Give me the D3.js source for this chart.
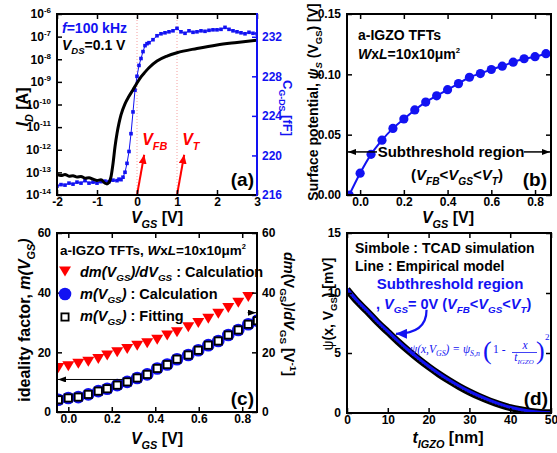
<!DOCTYPE html>
<html><head><meta charset="utf-8">
<script src="https://cdn.jsdelivr.net/npm/d3@7"></script>
<style>
body{margin:0;background:#fff}
svg{display:block;font-family:"Liberation Sans",Arial,sans-serif;font-weight:bold}
</style></head><body>
<svg id="fig" width="557" height="453"></svg>
<script>
// ---------- data ----------
// (a) transfer curve, black line
const aIdV = [-2,-1.9,-1.8,-1.7,-1.6,-1.5,-1.4,-1.3,-1.2,-1.1,-1.0,-0.9,-0.8,-0.75,-0.7,-0.65,-0.6,-0.55,-0.5,-0.45,-0.4,-0.3,-0.2,-0.1,0,0.1,0.2,0.3,0.5,0.75,1,1.5,2,2.5,3]
const aId = [8.1e-14,7.2e-14,8.1e-14,6.8e-14,7.1e-14,6.2e-14,6.6e-14,5.5e-14,5.8e-14,5.0e-14,4.4e-14,4.7e-14,3.3e-14,3.1e-14,3.6e-14,6.3e-14,2.4e-13,1.35e-12,5.2e-12,1.5e-11,3.5e-11,1.07e-10,2.3e-10,4.5e-10,8.9e-10,1.66e-9,2.7e-9,4.2e-9,8.3e-9,1.38e-8,1.95e-8,3.0e-8,4.3e-8,5.5e-8,6.9e-8]
// (a) C-V, blue squares
const aCV = [-2,-1.9,-1.8,-1.7,-1.6,-1.5,-1.4,-1.3,-1.2,-1.1,-1.0,-0.9,-0.8,-0.7,-0.6,-0.5,-0.45,-0.4,-0.35,-0.3,-0.25,-0.2,-0.15,-0.1,-0.05,0,0.05,0.1,0.15,0.2,0.25,0.3,0.4,0.5,0.6,0.7,0.8,0.9,1.0,1.1,1.2,1.3,1.4,1.5,1.6,1.7,1.8,1.9,2.0,2.1,2.2,2.3,2.4,2.5,2.6,2.7,2.8,2.9,3.0]
const aC = [216.9,217.05,217.0,217.2,217.1,217.3,217.2,217.45,217.2,217.3,217.2,217.35,217.4,217.35,217.5,217.45,217.6,217.55,217.8,218.3,219.2,220.4,222.2,224.4,226.6,228.0,229.1,229.8,230.5,231.1,231.3,231.4,231.7,232.1,232.3,232.4,232.5,232.6,232.85,232.5,232.35,232.6,232.45,232.5,232.6,232.55,232.65,232.7,232.7,232.75,232.95,232.75,232.6,232.5,232.4,232.3,232.45,232.35,232.3]
const aMarkV = [0, 1]          // V_FB, V_T
const aLogTicks = [1e-14,1e-13,1e-12,1e-11,1e-10,1e-9,1e-8,1e-7,1e-6]
const aCTicks = [216,220,224,228,232]
const aXTicks = [-2,-1,0,1,2,3]

// (b) surface potential
const bV = [-0.05,0,0.05,0.1,0.15,0.2,0.25,0.3,0.35,0.4,0.45,0.5,0.55,0.6,0.65,0.7,0.75,0.8,0.85]
const bPsi = [0,0.0181,0.0337,0.0454,0.0552,0.063,0.0705,0.077,0.0822,0.0873,0.0923,0.0976,0.1006,0.104,0.1068,0.1101,0.1129,0.1146,0.1171]
const bXTicks = [0,0.2,0.4,0.6,0.8]
const bYTicks = [0,0.05,0.1,0.15]

// (c) ideality factor
const cV = [-0.046,0,0.046,0.092,0.138,0.179,0.225,0.271,0.317,0.363,0.409,0.455,0.5,0.552,0.598,0.644,0.69,0.736,0.782,0.828,0.87]
const cDm = [14.9,15.5,16.3,17.0,17.9,19.1,20.2,21.3,22.4,23.2,24.4,25.8,26.9,28.6,30.0,31.4,33.1,35.0,36.8,38.7]
const cMcalc = [4.1,4.7,5.0,5.9,7.0,7.8,9.0,10.1,11.4,12.6,14.6,15.9,17.7,19.1,20.7,22.4,23.8,25.8,27.5,29.4,30.6]
const cMfit = [4.1,4.7,5.0,5.9,7.0,7.8,9.0,10.1,11.4,12.6,14.6,15.9,17.7,19.1,20.7,22.4,23.8,25.8,27.5,29.4,30.6]
const cXTicks = [0,0.2,0.4,0.6,0.8]
const cYTicks = [0,20,40,60]

// (d) potential profile
const dX = [0,2.5,5,7.5,10,12.5,15,17.5,20,22.5,25,27.5,30,32.5,35,37.5,40,42.5,45,47.5,50]
const dTcad = [10.3,9.3,8.45,7.55,6.75,5.95,5.2,4.5,3.85,3.25,2.7,2.2,1.75,1.35,1.0,0.7,0.45,0.27,0.13,0.05,0.02]
const dModel = [10.35,9.35,8.5,7.6,6.8,6.0,5.25,4.55,3.9,3.3,2.75,2.25,1.8,1.4,1.05,0.74,0.48,0.29,0.14,0.06,0.03]
const dXTicks = [0,10,20,30,40,50]
const dYTicks = [0,5,10,15]

// ---------- setup ----------
const BLUE = "#1212f2", RED = "#ff0000"
const svg = d3.select("#fig")
const defs = svg.append("defs")

const pa = {x0:57, x1:257, y0:14, y1:195}
const pb = {x0:347, x1:551, y0:14, y1:195}
const pc = {x0:57, x1:257, y0:233, y1:412}
const pd = {x0:347, x1:551, y0:233, y1:413}

function mkMarker(id, col, w, h) {
    defs.append("marker").attr("id", id)
        .attr("viewBox", `0 0 ${w} ${h}`).attr("refX", w).attr("refY", h/2)
        .attr("markerWidth", w).attr("markerHeight", h)
        .attr("markerUnits", "userSpaceOnUse").attr("orient", "auto")
        .append("path").attr("d", `M0,0L${w},${h/2}L0,${h}z`).attr("fill", col)
}
mkMarker("ahRed", RED, 9, 8)
mkMarker("ahBlk", "#000", 8, 6)
mkMarker("ahBlue", BLUE, 11, 10)

function clip(id, p) {
    defs.append("clipPath").attr("id", id).append("rect")
        .attr("x", p.x0).attr("y", p.y0).attr("width", p.x1-p.x0).attr("height", p.y1-p.y0)
}

// rich text: parts = [{t, i, sub, sup, f, ff, n}]
function rich(sel, parts, fs) {
    let cur = 0
    parts.forEach(p => {
        const off = p.sub ? fs*0.3 : p.sup ? -fs*0.42 : 0
        const s = sel.append("tspan").attr("dy", off - cur).text(p.t)
        cur = off
        if (p.sub || p.sup) s.style("font-size", (fs*(p.k || 0.68)) + "px")
        if (p.i) s.style("font-style", "italic")
        if (p.f) s.attr("fill", p.f)
        if (p.ff) s.style("font-family", p.ff)
        if (p.n) s.style("font-weight", "normal")
    })
    return sel
}
function label(x, y, parts, fs, o = {}) {
    const t = svg.append("text").attr("x", x).attr("y", y).style("font-size", fs + "px")
    if (o.rot) t.attr("transform", `rotate(${o.rot},${x},${y})`)
    if (o.anchor) t.attr("text-anchor", o.anchor)
    t.attr("fill", o.fill || "#000")
    if (o.ff) t.style("font-family", o.ff)
    if (o.n) t.style("font-weight", "normal")
    return rich(t, parts, fs)
}

function styleAxis(s, col) {
    s.select(".domain").remove()
    s.attr("font-family", null).attr("font-size", null)
    s.selectAll("line").attr("stroke", col).attr("stroke-width", 1.5)
    s.selectAll("text").attr("fill", col).style("font-size", "12px")
}
function xAxes(p, x, ticks, fmt) {
    svg.append("g").attr("transform", `translate(0,${p.y1})`)
        .call(d3.axisBottom(x).tickValues(ticks).tickFormat(fmt).tickSizeInner(-5).tickSizeOuter(0).tickPadding(2))
        .call(s => styleAxis(s, "#000"))
    svg.append("g").attr("transform", `translate(0,${p.y0})`)
        .call(d3.axisTop(x).tickValues(ticks).tickFormat("").tickSizeInner(-5).tickSizeOuter(0))
        .call(s => styleAxis(s, "#000"))
}
function yLeft(p, y, ticks, fmt) {
    return svg.append("g").attr("transform", `translate(${p.x0},0)`)
        .call(d3.axisLeft(y).tickValues(ticks).tickFormat(fmt).tickSizeInner(-5).tickSizeOuter(0).tickPadding(6))
        .call(s => styleAxis(s, "#000"))
}
function yRight(p, y, ticks, fmt, col) {
    return svg.append("g").attr("transform", `translate(${p.x1},0)`)
        .call(d3.axisRight(y).tickValues(ticks).tickFormat(fmt).tickSizeInner(-5).tickSizeOuter(0).tickPadding(5))
        .call(s => styleAxis(s, col))
}
function box(p, rightCol) {
    const g = svg.append("g").attr("fill", "none").attr("stroke-width", 2)
    g.append("path").attr("stroke", "#000")
        .attr("d", `M${p.x1},${p.y0}H${p.x0}V${p.y1}H${p.x1}`)
    g.append("line").attr("stroke", rightCol || "#000")
        .attr("x1", p.x1).attr("x2", p.x1).attr("y1", p.y0 - 1).attr("y2", p.y1 + 1)
}
const fmtPlain = d => String(d)

// ---------- (a) ----------
{
    const x = d3.scaleLinear().domain([-2, 3]).range([pa.x0, pa.x1])
    const y = d3.scaleLog().domain([1e-14, 1e-6]).range([pa.y1, pa.y0])
    const yR = d3.scaleLinear().domain([216, 234.3]).range([pa.y1, pa.y0])
    clip("clipA", pa)
    const g = svg.append("g").attr("clip-path", "url(#clipA)")

    g.selectAll(".vm").data(aMarkV).join("line")
        .attr("x1", d => x(d)).attr("x2", d => x(d)).attr("y1", pa.y0).attr("y2", pa.y1)
        .attr("stroke", "#f5a0a0").attr("stroke-width", 1).attr("stroke-dasharray", "1,2")

    const cpts = aCV.map((v, i) => [x(v), yR(aC[i])])
    g.append("path").attr("d", d3.line()(cpts)).attr("fill", "none")
        .attr("stroke", BLUE).attr("stroke-width", 1)
    g.selectAll(".sq").data(cpts).join("rect")
        .attr("x", d => d[0] - 1.8).attr("y", d => d[1] - 1.8).attr("width", 3.6).attr("height", 3.6)
        .attr("fill", BLUE)

    g.append("path").attr("d", d3.line().x((d, i) => x(aIdV[i])).y(d => y(d)).curve(d3.curveMonotoneX)(aId))
        .attr("fill", "none").attr("stroke", "#000").attr("stroke-width", 3)

    // V_FB / V_T arrows
    aMarkV.forEach(v => {
        svg.append("line").attr("x1", x(v)).attr("y1", pa.y1)
            .attr("x2", x(v + 0.18)).attr("y2", y(6e-13))
            .attr("stroke", RED).attr("stroke-width", 2).attr("marker-end", "url(#ahRed)")
    })
    label(x(0.13), y(1.6e-12), [{t:"V", i:1}, {t:"FB", i:1, sub:1}], 16, {fill: RED})
    label(x(1.13), y(1.6e-12), [{t:"V", i:1}, {t:"T", i:1, sub:1}], 16, {fill: RED})

    xAxes(pa, x, aXTicks, fmtPlain)
    const gl = yLeft(pa, y, aLogTicks, "")
    gl.selectAll(".tick text").each(function(d) {
        const t = d3.select(this)
        t.append("tspan").text("10")
        t.append("tspan").attr("dy", -5).style("font-size", "8px").text(Math.round(Math.log10(d)))
    })
    yRight(pa, yR, aCTicks, fmtPlain, BLUE)
    box(pa, BLUE)

    label(62, 33, [{t:"f", i:1}, {t:"=100 kHz"}], 14, {fill: BLUE})
    label(62, 50, [{t:"V", i:1}, {t:"DS", i:1, sub:1}, {t:"=0.1 V"}], 14)
    label(254, 186, [{t:"(a)"}], 19, {anchor: "end"})
    label(28, 107, [{t:"I", i:1}, {t:"D", i:1, sub:1}, {t:" [A]"}], 16, {rot: -90, anchor: "middle"})
    label(283, 108, [{t:"C"}, {t:"G-DS", sub:1}, {t:" [fF]"}], 13, {rot: 90, anchor: "middle", fill: BLUE})
    label(157, 223, [{t:"V", i:1}, {t:"GS", i:1, sub:1}, {t:" [V]"}], 16, {anchor: "middle"})
}

// ---------- (b) ----------
{
    const x = d3.scaleLinear().domain([-0.06, 0.873]).range([pb.x0, pb.x1])
    const y = d3.scaleLinear().domain([0, 0.15]).range([pb.y1, pb.y0])
    clip("clipB", pb)
    const g = svg.append("g").attr("clip-path", "url(#clipB)")
    const pts = bV.map((v, i) => [x(v), y(bPsi[i])])
    g.append("path").attr("d", d3.line().curve(d3.curveMonotoneX)(pts))
        .attr("fill", "none").attr("stroke", BLUE).attr("stroke-width", 2)
    g.selectAll("circle").data(pts).join("circle")
        .attr("cx", d => d[0]).attr("cy", d => d[1]).attr("r", 4.6).attr("fill", BLUE)

    xAxes(pb, x, bXTicks, d3.format(".1f"))
    yLeft(pb, y, bYTicks, d3.format(".2f"))
    yRight(pb, y, bYTicks, "", "#000")
    box(pb)

    // subthreshold arrow
    const ya = y(0.0357)
    svg.append("line").attr("x1", 377).attr("x2", pb.x0 + 1).attr("y1", ya).attr("y2", ya)
        .attr("stroke", "#000").attr("stroke-width", 1.5).attr("marker-end", "url(#ahBlk)")
    svg.append("line").attr("x1", 524).attr("x2", pb.x1 - 1).attr("y1", ya).attr("y2", ya)
        .attr("stroke", "#000").attr("stroke-width", 1.5).attr("marker-end", "url(#ahBlk)")
    label(451, ya + 5, [{t:"Subthreshold region"}], 15, {anchor: "middle"})
    label(457, 180, [{t:"("}, {t:"V", i:1}, {t:"FB", i:1, sub:1}, {t:"<"}, {t:"V", i:1}, {t:"GS", i:1, sub:1},
        {t:"<"}, {t:"V", i:1}, {t:"T", i:1, sub:1}, {t:")"}], 15, {anchor: "middle"})

    label(358, 40, [{t:"a-IGZO TFTs"}], 14)
    label(358, 59, [{t:"W", i:1}, {t:"x"}, {t:"L", i:1}, {t:"=10x10"}, {t:"\u03bcm"}, {t:"2", sup:1, k:0.55}], 14)
    label(547, 186, [{t:"(b)"}], 19, {anchor: "end"})
    label(318, 102, [{t:"Surface potential, "}, {t:"\u03c8", i:1}, {t:"S", i:1, sub:1}, {t:" (V"}, {t:"GS", sub:1}, {t:") [V]"}], 14, {rot: -90, anchor: "middle"})
    label(448, 223, [{t:"V", i:1}, {t:"GS", i:1, sub:1}, {t:" [V]"}], 16, {anchor: "middle"})
}

// ---------- (c) ----------
{
    const x = d3.scaleLinear().domain([-0.052, 0.868]).range([pc.x0, pc.x1])
    const y = d3.scaleLinear().domain([0, 60]).range([pc.y1, pc.y0])
    clip("clipC", pc)
    const g = svg.append("g").attr("clip-path", "url(#clipC)")
    const tri = (cx, cy) => `M${cx-6},${cy-4.5}L${cx+6},${cy-4.5}L${cx},${cy+5.5}z`

    g.selectAll(".ci").data(cMcalc).join("circle")
        .attr("cx", (d, i) => x(cV[i])).attr("cy", d => y(d)).attr("r", 6.3).attr("fill", BLUE)
    g.selectAll(".sqf").data(cMfit).join("rect")
        .attr("x", (d, i) => x(cV[i]) - 3.6).attr("y", d => y(d) - 3.6).attr("width", 7.2).attr("height", 7.2)
        .attr("fill", "#fff").attr("stroke", "#000").attr("stroke-width", 1.8)
    g.selectAll(".tr").data(cDm).join("path")
        .attr("d", (d, i) => tri(x(cV[i]), y(d))).attr("fill", RED)

    // arrows pointing to the axes
    svg.append("line").attr("x1", x(0.25)).attr("x2", pc.x0 + 1).attr("y1", y(10.9)).attr("y2", y(10.9))
        .attr("stroke", "#000").attr("stroke-width", 1).attr("marker-end", "url(#ahBlk)")
    svg.append("line").attr("x1", x(0.825)).attr("x2", pc.x1 - 1).attr("y1", y(33.3)).attr("y2", y(33.3))
        .attr("stroke", "#000").attr("stroke-width", 1).attr("marker-end", "url(#ahBlk)")

    xAxes(pc, x, cXTicks, d3.format(".1f"))
    yLeft(pc, y, cYTicks, fmtPlain)
    yRight(pc, y, cYTicks, fmtPlain, "#000")
    box(pc)

    // legend
    label(60, 255, [{t:"a-IGZO TFTs, "}, {t:"W", i:1}, {t:"x"}, {t:"L", i:1}, {t:"=10x10"}, {t:"\u03bcm"}, {t:"2", sup:1, k:0.55}], 13.5)
    svg.append("path").attr("d", tri(65, 271)).attr("fill", RED)
    svg.append("circle").attr("cx", 65).attr("cy", 294).attr("r", 6.3).attr("fill", BLUE)
    svg.append("rect").attr("x", 61.4).attr("y", 313.4).attr("width", 7.2).attr("height", 7.2)
        .attr("fill", "#fff").attr("stroke", "#000").attr("stroke-width", 1.8)
    label(80, 277, [{t:"dm(V", i:1}, {t:"GS", i:1, sub:1}, {t:")/dV", i:1}, {t:"GS", i:1, sub:1}, {t:" : Calculation"}], 14.5)
    label(80, 299, [{t:"m(V", i:1}, {t:"GS", i:1, sub:1}, {t:")", i:1}, {t:" : Calculation"}], 14.5)
    label(80, 321, [{t:"m(V", i:1}, {t:"GS", i:1, sub:1}, {t:")", i:1}, {t:" : Fitting"}], 14.5)

    label(254, 405, [{t:"(c)"}], 19, {anchor: "end"})
    label(30, 320, [{t:"ideality factor, "}, {t:"m", i:1}, {t:"(V", i:1}, {t:"GS", i:1, sub:1}, {t:")", i:1}], 16, {rot: -90, anchor: "middle"})
    label(284, 314, [{t:"dm", i:1}, {t:"(V"}, {t:"GS", sub:1}, {t:")/"}, {t:"dV", i:1}, {t:"GS", sub:1}, {t:" [V"}, {t:"-1", sup:1}, {t:"]"}], 14.5, {rot: 90, anchor: "middle"})
    label(157, 444, [{t:"V", i:1}, {t:"GS", i:1, sub:1}, {t:" [V]"}], 16, {anchor: "middle"})
}

// ---------- (d) ----------
{
    const x = d3.scaleLinear().domain([0, 50]).range([pd.x0, pd.x1])
    const y = d3.scaleLinear().domain([0, 15]).range([pd.y1, pd.y0])
    clip("clipD", pd)
    const g = svg.append("g").attr("clip-path", "url(#clipD)")
    const line = d3.line().x((d, i) => x(dX[i])).y(d => y(d)).curve(d3.curveMonotoneX)
    g.append("path").attr("d", line(dTcad)).attr("fill", "none").attr("stroke", "#000").attr("stroke-width", 7)
    g.append("path").attr("d", line(dTcad)).attr("fill", "none").attr("stroke", "#555").attr("stroke-width", 2.5).attr("stroke-dasharray", "1,2")
    g.append("path").attr("d", line(dModel)).attr("fill", "none").attr("stroke", BLUE).attr("stroke-width", 3)

    xAxes(pd, x, dXTicks, fmtPlain)
    yLeft(pd, y, dYTicks, fmtPlain)
    yRight(pd, y, dYTicks, "", "#000")
    box(pd)

    label(355, 253, [{t:"Simbole : TCAD simulation"}], 14)
    label(355, 271, [{t:"Line : Empirical model"}], 14)
    label(450, 289, [{t:"Subthreshold region"}], 15, {anchor: "middle", fill: BLUE})
    label(376, 309, [{t:", "}, {t:"V", i:1}, {t:"GS", i:1, sub:1}, {t:"= 0V ("}, {t:"V", i:1}, {t:"FB", i:1, sub:1}, {t:"<"},
        {t:"V", i:1}, {t:"GS", i:1, sub:1}, {t:"<"}, {t:"V", i:1}, {t:"T", i:1, sub:1}, {t:")"}], 14.5, {fill: BLUE})

    // curved arrow
    svg.append("path").attr("d", `M${x(19.5)},${y(8.6)}Q${x(19.5)},${y(6.6)} ${x(12)},${y(6.6)}`)
        .attr("fill", "none").attr("stroke", BLUE).attr("stroke-width", 2.2).attr("marker-end", "url(#ahBlue)")

    // formula
    const SER = '"Liberation Serif","Times New Roman",serif'
    label(410, 353, [{t:"\u03c8"}, {t:"(", n:1}, {t:"x"}, {t:","}, {t:"V"}, {t:"GS", sub:1}, {t:")"}, {t:" = "}, {t:"\u03c8"}, {t:"S,n", sub:1}],
        11.5, {fill: BLUE, ff: SER, n: 1}).style("font-style", "italic")
    label(483, 359, [{t:"("}], 26, {fill: BLUE, ff: SER, n: 1})
    label(493, 353, [{t:"1 - "}], 11.5, {fill: BLUE, ff: SER, n: 1})
    label(525, 349, [{t:"x"}], 11.5, {fill: BLUE, ff: SER, n: 1, anchor: "middle"}).style("font-style", "italic")
    svg.append("line").attr("x1", 512).attr("x2", 537).attr("y1", 352.5).attr("y2", 352.5).attr("stroke", BLUE).attr("stroke-width", 0.8)
    label(524, 361, [{t:"t"}, {t:"IGZO", sub:1, k:0.6}], 11.5, {fill: BLUE, ff: SER, n: 1, anchor: "middle"}).style("font-style", "italic")
    label(536, 359, [{t:")"}], 26, {fill: BLUE, ff: SER, n: 1})
    label(545, 340, [{t:"2"}], 9, {fill: BLUE, ff: SER, n: 1})

    label(548, 405, [{t:"(d)"}], 19, {anchor: "end"})
    label(333, 304, [{t:"\u03c8", n:1}, {t:"(x, V"}, {t:"GS", sub:1}, {t:") [mV]"}], 14, {rot: -90, anchor: "middle"})
    label(448, 443, [{t:"t", i:1}, {t:"IGZO", i:1, sub:1}, {t:" [nm]"}], 16, {anchor: "middle"})
}
</script>
</body></html>
